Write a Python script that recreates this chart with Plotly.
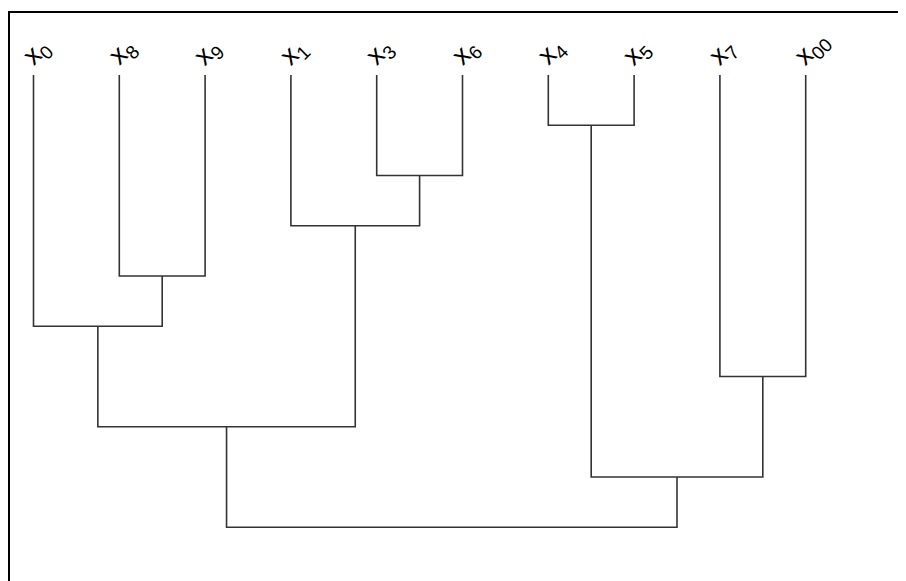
import plotly.graph_objects as go

# Leaf labels in dendrogram order (left to right): letter x with subscript index
label_index = ["0", "8", "9", "1", "3", "6", "4", "5", "7", "00"]
labels = ["x<sub>" + s + "</sub>" for s in label_index]

# Merge steps: (left child, right child, merge height)
# children 0..9 are leaves, 10.. are earlier merges in order
merge_left = [6, 4, 3, 1, 0, 8, 14, 10, 16]
merge_right = [7, 5, 11, 2, 13, 9, 12, 15, 17]
merge_height = [1, 2, 3, 4, 5, 6, 7, 8, 9]

n = len(labels)
pos = {i: float(i) for i in range(n)}
hgt = {i: 0.0 for i in range(n)}

xs, ys = [], []
for k, (a, b, h) in enumerate(zip(merge_left, merge_right, merge_height)):
    node = n + k
    xs += [pos[a], pos[a], pos[b], pos[b], None]
    ys += [hgt[a], h, h, hgt[b], None]
    pos[node] = (pos[a] + pos[b]) / 2
    hgt[node] = h

fig = go.Figure()
fig.add_trace(go.Scatter(x=xs, y=ys, mode="lines",
                         line=dict(color="#333333", width=1.6),
                         hoverinfo="skip", showlegend=False))

for i, lab in enumerate(labels):
    fig.add_annotation(x=i, y=0.02, xref="x", yref="y", text=lab,
                       textangle=-45, showarrow=False,
                       xanchor="left", yanchor="bottom", xshift=-20,
                       font=dict(family="Liberation Sans, Arial, sans-serif",
                                 size=27, color="#000000"))

# frame around the plot (left and top visible in the picture)
fig.add_shape(type="rect", xref="paper", yref="paper",
              x0=1 / 898, x1=1.2, y0=-0.2, y1=(573 - 4) / 573,
              line=dict(color="#000000", width=2), fillcolor="rgba(0,0,0,0)")

fig.update_xaxes(range=[-0.2972, 10.169], visible=False, showgrid=False,
                 zeroline=False, fixedrange=True)
fig.update_yaxes(range=[10.07, -1.3333], visible=False, showgrid=False,
                 zeroline=False, fixedrange=True)
fig.update_layout(width=898, height=573,
                  margin=dict(l=0, r=0, t=0, b=0),
                  paper_bgcolor="white", plot_bgcolor="white")

fig.write_html("out.html")
